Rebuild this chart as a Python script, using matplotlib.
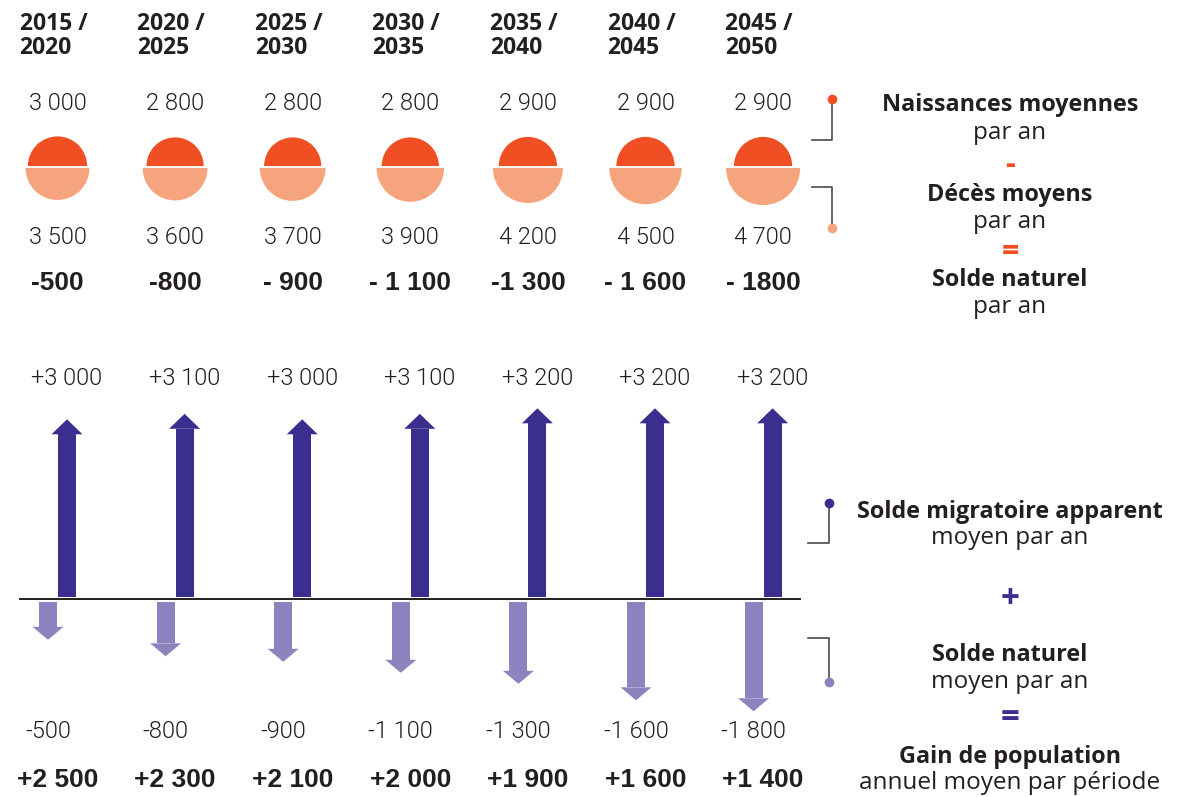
import matplotlib
matplotlib.use("Agg")
import matplotlib.pyplot as plt
from matplotlib.patches import Wedge, Polygon

# ---------------- data ----------------
periods_top = ["2015 /", "2020 /", "2025 /", "2030 /", "2035 /", "2040 /", "2045 /"]
periods_bot = ["2020", "2025", "2030", "2035", "2040", "2045", "2050"]
births = [3000, 2800, 2800, 2800, 2900, 2900, 2900]
deaths = [3500, 3600, 3700, 3900, 4200, 4500, 4700]
natural_labels = ["-500", "-800", "- 900", "- 1 100", "-1 300", "- 1 600", "- 1800"]
migration = [3000, 3100, 3000, 3100, 3200, 3200, 3200]
natural = [-500, -800, -900, -1100, -1300, -1600, -1800]
gain = [2500, 2300, 2100, 2000, 1900, 1600, 1400]

# ---------------- style ----------------
ORANGE = "#F04E23"
SALMON = "#F6A47D"
DARK = "#3A2F8E"
LAV = "#8C84BF"
TXT = "#231F20"
LINE = "#4a4a4a"

SANS = "Open Sans"
NUMB = "Liberation Sans"
LIGHT = "Roboto"


def fmt(v, plus=False):
    s = f"{abs(v):,}".replace(",", " ")
    if v < 0:
        return "-" + s
    return ("+" + s) if plus else s


fig = plt.figure(figsize=(11.8, 7.97), dpi=100)
ax = fig.add_axes([0, 0, 1, 1])
ax.set_xlim(0, 1180)
ax.set_ylim(797, 0)
ax.axis("off")

n = len(births)
centers = [57.5 + i * 117.6 for i in range(n)]

# ---------- headers ----------
for i, c in enumerate(centers):
    ax.text(c - 38, 23.5, periods_top[i], ha="left", va="center", fontsize=16.5,
            fontweight="bold", family=SANS, color=TXT)
    ax.text(c - 38, 47.5, periods_bot[i], ha="left", va="center", fontsize=16.5,
            fontweight="bold", family=SANS, color=TXT)

# ---------- semicircles ----------
R0 = 29.6
for i, c in enumerate(centers):
    rb = R0 * (births[i] / 3000) ** 0.5
    rd = R0 * (deaths[i] / 3000) ** 0.5
    ax.add_patch(Wedge((c, 166), rb, 180, 360, facecolor=ORANGE, edgecolor="none"))
    ax.add_patch(Wedge((c, 168), rd, 0, 180, facecolor=SALMON, edgecolor="none"))
    ax.text(c, 103, fmt(births[i]), ha="center", va="center", fontsize=17,
            family=LIGHT, fontweight=300, color=TXT)
    ax.text(c, 237, fmt(deaths[i]), ha="center", va="center", fontsize=17,
            family=LIGHT, fontweight=300, color=TXT)
    ax.text(c, 283, natural_labels[i], ha="center", va="center", fontsize=19,
            fontweight="bold", family=NUMB, color=TXT)

# ---------- arrows (value axis) ----------
K = 0.055           # px per person
BASE = 599.3        # baseline pixel
ax2 = fig.add_axes([0, 0, 1, 1])
ax2.set_xlim(0, 1180)
ax2.set_ylim((BASE - 797) / K, BASE / K)
ax2.axis("off")
ax2.patch.set_alpha(0)

GAP = 2.5 / K
HEAD_UP = 15 / K
HEAD_DN = 13 / K
x_up = [c + 9.5 for c in centers]
x_dn = [c - 9.5 for c in centers]

ax2.bar(x_up, [m - GAP for m in migration], bottom=GAP, width=18, color=DARK)
for x, m in zip(x_up, migration):
    ax2.add_patch(Polygon([(x - 15.5, m), (x + 15.5, m), (x, m + HEAD_UP)],
                          closed=True, facecolor=DARK, edgecolor="none"))
ax2.bar(x_dn, [v + GAP for v in natural], bottom=-GAP, width=18, color=LAV)
for x, v in zip(x_dn, natural):
    ax2.add_patch(Polygon([(x - 15.5, v), (x + 15.5, v), (x, v - HEAD_DN)],
                          closed=True, facecolor=LAV, edgecolor="none"))
ax2.plot([20, 800], [0, 0], color=TXT, lw=1.4)

for i, c in enumerate(centers):
    ax.text(x_up[i], 378, fmt(migration[i], plus=True), ha="center", va="center",
            fontsize=17, family=LIGHT, fontweight=300, color=TXT)
    ax.text(x_dn[i], 732, fmt(natural[i]), ha="center", va="center",
            fontsize=17, family=LIGHT, fontweight=300, color=TXT)
    ax.text(c, 780, fmt(gain[i], plus=True), ha="center", va="center",
            fontsize=19, fontweight="bold", family=NUMB, color=TXT)

# ---------- legend (right) ----------
LX = 1010
def leg(y, s, bold=True, color=TXT, size=None):
    if size is None:
        size = 16.8 if bold else 17.5
    ax.text(LX, y, s, ha="center", va="center", fontsize=size,
            fontweight="bold" if bold else "normal", family=SANS, color=color)

ax.plot([812, 831.5, 831.5], [140, 140, 99], color=LINE, lw=1.2)
ax.plot(831.5, 99, "o", ms=7, color=ORANGE, mec="none")
ax.plot([812, 831.5, 831.5], [187, 187, 228], color=LINE, lw=1.2)
ax.plot(831.5, 228, "o", ms=7, color=SALMON, mec="none")

leg(105, "Naissances moyennes")
leg(133, "par an", bold=False)
leg(165, "-", color=ORANGE, size=22)
leg(195, "Décès moyens")
leg(222, "par an", bold=False)
leg(252, "=", color=ORANGE, size=22)
leg(280, "Solde naturel")
leg(307, "par an", bold=False)

ax.plot([808, 829, 829], [543, 543, 503], color=LINE, lw=1.2)
ax.plot(829, 503, "o", ms=7, color=DARK, mec="none")
ax.plot([808, 829, 829], [638, 638, 682], color=LINE, lw=1.2)
ax.plot(829, 682, "o", ms=7, color=LAV, mec="none")

leg(512, "Solde migratoire apparent")
leg(538, "moyen par an", bold=False)
leg(600, "+", color=DARK, size=24)
leg(655, "Solde naturel")
leg(682, "moyen par an", bold=False)
leg(719, "=", color=DARK, size=24)
leg(757, "Gain de population")
leg(783, "annuel moyen par période", bold=False)

fig.savefig("out.png", dpi=100)
